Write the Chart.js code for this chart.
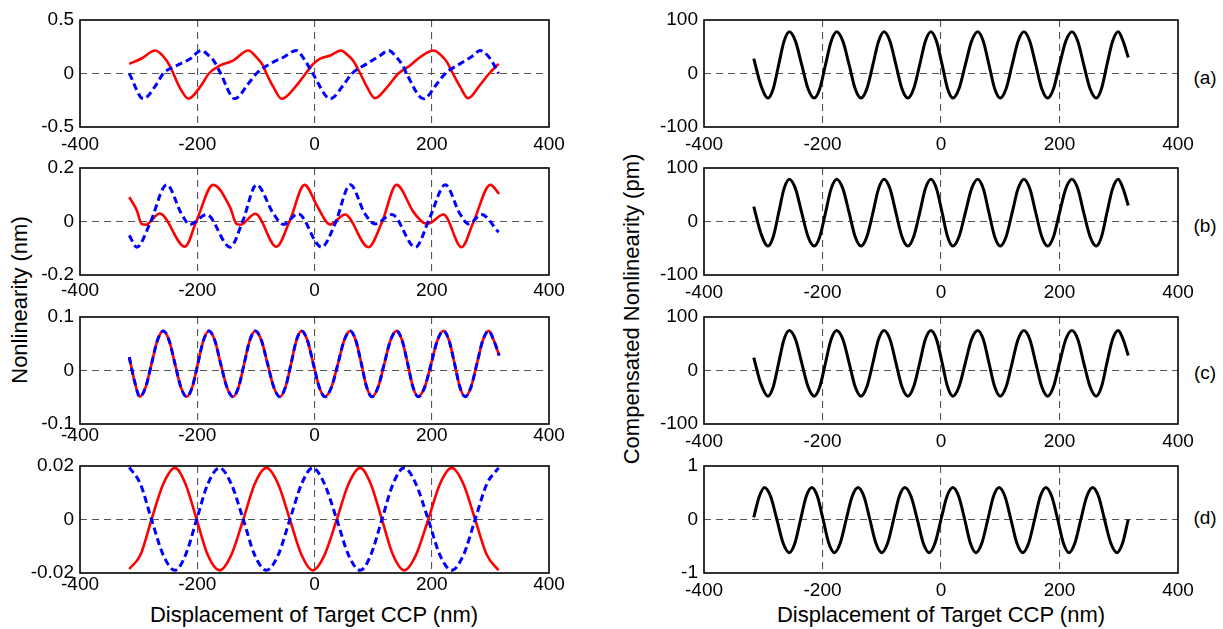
<!DOCTYPE html>
<html>
<head>
<meta charset="utf-8">
<script src="https://cdn.jsdelivr.net/npm/chart.js@4.4.1/dist/chart.umd.min.js"></script>
<style>
  body { margin: 0; width: 1223px; height: 629px; background: #fff; position: relative; overflow: hidden;
         font-family: "Liberation Sans", Arial, Helvetica, sans-serif; }
  canvas { position: absolute; }
  .t { position: absolute; color: #000; white-space: nowrap; line-height: 1; transform: translate(-50%, -50%); }
  .rot { transform: translate(-50%, -50%) rotate(-90deg); }
</style>
</head>
<body>
<div class="t" style="left:314px;top:615px;font-size:22px">Displacement of Target CCP (nm)</div>
<div class="t" style="left:941px;top:615px;font-size:22px">Displacement of Target CCP (nm)</div>
<div class="t rot" style="left:20px;top:300px;font-size:22px">Nonlinearity (nm)</div>
<div class="t rot" style="left:632px;top:309px;font-size:22px">Compensated Nonlinearity (pm)</div>
<div class="t" style="left:1205px;top:77px;font-size:19px">(a)</div>
<div class="t" style="left:1205px;top:225px;font-size:19px">(b)</div>
<div class="t" style="left:1205px;top:372px;font-size:19px">(c)</div>
<div class="t" style="left:1205px;top:517px;font-size:19px">(d)</div>
<script>
// ---- data (x in nm) ----
// left (1): red / blue, nm
const red1X = [-316,-295,-272,-252,-244,-230,-215,-195,-180,-161,-139,-113,-99,-88,-82,-70,-56,-33,-15,-2,9,27,45,58,66,78,90,103,124,143,163,180,203,217,226,236,249,262,282,298,314];
const red1Y = [0.09,0.14,0.215,0.12,0.04,-0.13,-0.236,-0.125,0.0,0.075,0.12,0.215,0.152,0.075,0.0,-0.128,-0.236,-0.128,0.0,0.09,0.137,0.168,0.215,0.165,0.12,0.0,-0.13,-0.232,-0.128,0.0,0.075,0.152,0.215,0.165,0.106,0.0,-0.13,-0.232,-0.11,0.0,0.09];
const blue1X = [-316,-292,-269,-258,-235,-212,-193,-180,-172,-161,-136,-113,-99,-76,-53,-31,-16,-3,27,49,64,89,112,126,140,152,157,186,209,223,248,271,282,300,314];
const blue1Y = [0.0,-0.236,-0.096,0.0,0.075,0.137,0.215,0.165,0.12,0.01,-0.236,-0.096,0.0,0.09,0.152,0.215,0.12,0.0,-0.236,-0.11,0.0,0.09,0.168,0.215,0.152,0.06,0.0,-0.236,-0.096,0.0,0.09,0.168,0.215,0.137,0.0];

// left (2)
const red2X = [-316,-303,-295,-288,-264,-221,-201,-173,-144,-133,-126,-101,-65,-42,-17,4,21,27,52,92,115,140,169,185,194,220,251,271,300,315];
const red2Y = [0.091,0.041,-0.009,-0.012,0.03,-0.094,0.004,0.137,0.053,-0.009,-0.012,0.029,-0.094,0.004,0.137,0.06,-0.003,-0.011,0.026,-0.096,-0.003,0.137,0.035,-0.003,-0.008,0.026,-0.096,-0.003,0.137,0.103];
const blue2X = [-316,-303,-281,-252,-227,-213,-184,-144,-122,-99,-70,-53,-28,12,35,61,86,103,132,172,197,223,248,263,285,314];
const blue2Y = [-0.052,-0.096,-0.009,0.137,0.029,-0.011,0.026,-0.096,0.004,0.137,0.029,-0.011,0.029,-0.096,-0.009,0.137,0.029,-0.009,0.026,-0.096,0.016,0.137,0.029,-0.009,0.026,-0.04];

// left (3): red and blue lie on top of each other
const mid3X = [-316,-307,-298,-288,-278,-268,-258,-248,-238,-228,-218,-208.5,-199,-189.5,-180,-170,-160,-149.5,-139,-129.5,-120,-110.5,-101,-90.5,-80,-69.5,-59,-49.5,-40,-31,-22,-12,-2,8,18,29,40,50.5,61,70.5,80,89,98,108.5,119,129.5,140,149.5,159,168,177,188,199,209.5,220,229.5,239,248,257,267,277,287,297,306,315];
const red3Y = [0.025,-0.02,
  -0.049,-0.031,0.0125,0.056,0.074,0.056,0.0125,-0.031,
  -0.049,-0.031,0.0125,0.056,0.074,0.056,0.0125,-0.031,
  -0.049,-0.031,0.0125,0.056,0.074,0.056,0.0125,-0.031,
  -0.049,-0.031,0.0125,0.056,0.074,0.056,0.0125,-0.031,
  -0.049,-0.031,0.0125,0.056,0.074,0.056,0.0125,-0.031,
  -0.049,-0.031,0.0125,0.056,0.074,0.056,0.0125,-0.031,
  -0.049,-0.031,0.0125,0.056,0.074,0.056,0.0125,-0.031,
  -0.049,-0.031,0.0125,0.056,0.074,0.056,0.028];
const blue3Y = [0.025,-0.02,
  -0.049,-0.031,0.0125,0.056,0.074,0.056,0.0125,-0.031,
  -0.049,-0.031,0.0125,0.056,0.074,0.056,0.0125,-0.031,
  -0.049,-0.031,0.0125,0.056,0.074,0.056,0.0125,-0.031,
  -0.049,-0.031,0.0125,0.056,0.074,0.056,0.0125,-0.031,
  -0.049,-0.031,0.0125,0.056,0.074,0.056,0.0125,-0.031,
  -0.049,-0.031,0.0125,0.056,0.074,0.056,0.0125,-0.031,
  -0.049,-0.031,0.0125,0.056,0.074,0.056,0.0125,-0.031,
  -0.049,-0.031,0.0125,0.056,0.074,0.056,0.028];

// left (4)
const mid4X = [-316,-297,-278,-258,-238,-220,-201,-182,-162,-142,-121.5,-102,-82,-62,-42,-22,-3,17,38,58,78,96,115,134,153,173,194,214,234,254,274,294,314];
const red4Y = [-0.0185,-0.0133,0,0.0133,0.0193,0.0133,0,-0.0133,-0.019,-0.0133,0,0.0133,0.0193,0.0133,0,-0.0133,-0.019,-0.0133,0,0.0133,0.0193,0.0133,0,-0.0133,-0.019,-0.0133,0,0.0133,0.0193,0.0133,0,-0.0133,-0.019];
const blue4Y = [0.0195,0.0133,0,-0.0133,-0.019,-0.0133,0,0.0133,0.0193,0.0133,0,-0.0133,-0.019,-0.0133,0,0.0133,0.0193,0.0133,0,-0.0133,-0.019,-0.0133,0,0.0133,0.0193,0.0133,0,-0.0133,-0.019,-0.0133,0,0.0133,0.0193];

// right (a)-(c): compensated, pm
const compX = [-316,-304,-292,-283,-274,-265,-256,-245.5,-235,-224.5,-214,-204.5,-195,-185.5,-176,-165.5,-155,-145,-135,-125,-115,-105.5,-96,-86,-76,-66,-56,-46,-36,-26.5,-17,-7.5,2,11,20,30.5,41,51.5,62,71.5,81,90.5,100,110,120,130,140,150,160,170,180,190,200,210.5,221,231,241,251.5,262,271,280,289.5,299,307.5,316];
const compAY = [28,-22,
  -46,-28,16,60,78,60,16,-28,
  -46,-28,16,60,78,60,16,-28,
  -46,-28,16,60,78,60,16,-28,
  -46,-28,16,60,78,60,16,-28,
  -46,-28,16,60,78,60,16,-28,
  -46,-28,16,60,78,60,16,-28,
  -46,-28,16,60,78,60,16,-28,
  -46,-28,16,60,78,60,30];
const compBY = [28,-22,
  -46,-28,16,61,79,61,16,-28,
  -46,-28,16,61,79,61,16,-28,
  -46,-28,16,61,79,61,16,-28,
  -46,-28,16,61,79,61,16,-28,
  -46,-28,16,61,79,61,16,-28,
  -46,-28,16,61,79,61,16,-28,
  -46,-28,16,61,79,61,16,-28,
  -46,-28,16,61,79,61,30];
const compCY = [24,-25,
  -48,-30,14,58,75,58,14,-30,
  -48,-30,14,58,75,58,14,-30,
  -48,-30,14,58,75,58,14,-30,
  -48,-30,14,58,75,58,14,-30,
  -48,-30,14,58,75,58,14,-30,
  -48,-30,14,58,75,58,14,-30,
  -48,-30,14,58,75,58,14,-30,
  -48,-30,14,58,75,58,28];
// right (d)
const compDX = [-316,-307,-298,-287.5,-277,-266.5,-256,-246.5,-237,-227.5,-218,-208.5,-199,-189.5,-180,-170,-160,-150,-140,-130,-120,-110,-100,-90,-80,-70.5,-61,-50.5,-40,-30,-20,-10,0,10,20,30,40,49.5,59,69,79,88.5,98,108,118,128,138,148,158,167.5,177,187,197,206.5,216,226,236,246,256,266,276,286.5,297,306.5,316];
const compDY = [0.04,0.42,
  0.6,0.43,0,-0.44,-0.62,-0.44,0,0.43,
  0.6,0.43,0,-0.44,-0.62,-0.44,0,0.43,
  0.6,0.43,0,-0.44,-0.62,-0.44,0,0.43,
  0.6,0.43,0,-0.44,-0.62,-0.44,0,0.43,
  0.6,0.43,0,-0.44,-0.62,-0.44,0,0.43,
  0.6,0.43,0,-0.44,-0.62,-0.44,0,0.43,
  0.6,0.43,0,-0.44,-0.62,-0.44,0,0.43,
  0.6,0.43,0,-0.44,-0.62,-0.44,0];

// ---- drawing ----
const RED = { color: "#ff0000", width: 2.6 };
const BLUE = { color: "#0000ff", width: 3, dash: [7, 4] };
const BLACK = { color: "#000000", width: 3 };

// outer box of every axes
const frame = {
  id: "frame",
  afterDraw(chart) {
    const { ctx, chartArea: { left, top, width, height } } = chart;
    ctx.save();
    ctx.lineWidth = 1.6;
    ctx.strokeStyle = "#000";
    ctx.strokeRect(left, top, width, height);
    ctx.restore();
  },
};

function panel(p) {
  const cv = document.createElement("canvas");
  cv.width = 80 + p.w + 34;
  cv.height = 10 + 107 + 34;
  cv.style.left = p.x - 80 + "px";
  cv.style.top = p.y - 10 + "px";
  document.body.appendChild(cv);

  const font = { family: "'Liberation Sans', Arial, sans-serif", size: 19 };
  new Chart(cv, {
    type: "line",
    data: {
      datasets: p.sets.map((s) => ({
        data: s.x.map((v, i) => ({ x: v, y: s.y[i] })),
        borderColor: s.style.color,
        borderWidth: s.style.width,
        borderDash: s.style.dash || [],
        pointRadius: 0,
        fill: false,
        cubicInterpolationMode: "monotone",
      })),
    },
    options: {
      responsive: false,
      animation: false,
      events: [],
      layout: { padding: { top: 10, right: 34, left: 0, bottom: 0 } },
      plugins: { legend: { display: false }, tooltip: { enabled: false } },
      scales: {
        x: {
          type: "linear",
          min: -400,
          max: 400,
          ticks: { stepSize: 200, color: "#000", font, padding: p.gap, maxRotation: 0 },
          grid: {
            drawTicks: false,
            lineWidth: 1.1,
            color: (c) => (c.tick && c.tick.value > -400 && c.tick.value < 400 ? "#555" : "rgba(0,0,0,0)"),
          },
          border: { display: false, dash: [7, 5] },
          afterFit(s) {
            s.height = 34;
            s.paddingLeft = 0;
            s.paddingRight = 0;
          },
        },
        y: {
          min: -p.lim,
          max: p.lim,
          ticks: { stepSize: p.lim, color: "#000", font, padding: 6 },
          grid: {
            drawTicks: false,
            lineWidth: 1.1,
            color: (c) => (c.tick && Math.abs(c.tick.value) < 1e-9 ? "#555" : "rgba(0,0,0,0)"),
          },
          border: { display: false, dash: [7, 5] },
          afterFit(s) {
            s.width = 80;
            s.paddingTop = 0;
            s.paddingBottom = 0;
          },
        },
      },
    },
    plugins: [frame],
  });
}

panel({ x: 80, y: 20, w: 469, lim: 0.5, gap: 6, sets: [
  { x: blue1X, y: blue1Y, style: BLUE }, { x: red1X, y: red1Y, style: RED }] });
panel({ x: 80, y: 168, w: 469, lim: 0.2, gap: 4, sets: [
  { x: blue2X, y: blue2Y, style: BLUE }, { x: red2X, y: red2Y, style: RED }] });
panel({ x: 80, y: 317, w: 469, lim: 0.1, gap: 0, sets: [
  { x: mid3X, y: blue3Y, style: BLUE }, { x: mid3X, y: red3Y, style: RED }] });
panel({ x: 80, y: 466, w: 469, lim: 0.02, gap: 0, sets: [
  { x: mid4X, y: blue4Y, style: BLUE }, { x: mid4X, y: red4Y, style: RED }] });

panel({ x: 704, y: 20, w: 474, lim: 100, gap: 6, sets: [{ x: compX, y: compAY, style: BLACK }] });
panel({ x: 704, y: 168, w: 474, lim: 100, gap: 6, sets: [{ x: compX, y: compBY, style: BLACK }] });
panel({ x: 704, y: 317, w: 474, lim: 100, gap: 6, sets: [{ x: compX, y: compCY, style: BLACK }] });
panel({ x: 704, y: 466, w: 474, lim: 1, gap: 6, sets: [{ x: compDX, y: compDY, style: BLACK }] });
</script>
</body>
</html>
